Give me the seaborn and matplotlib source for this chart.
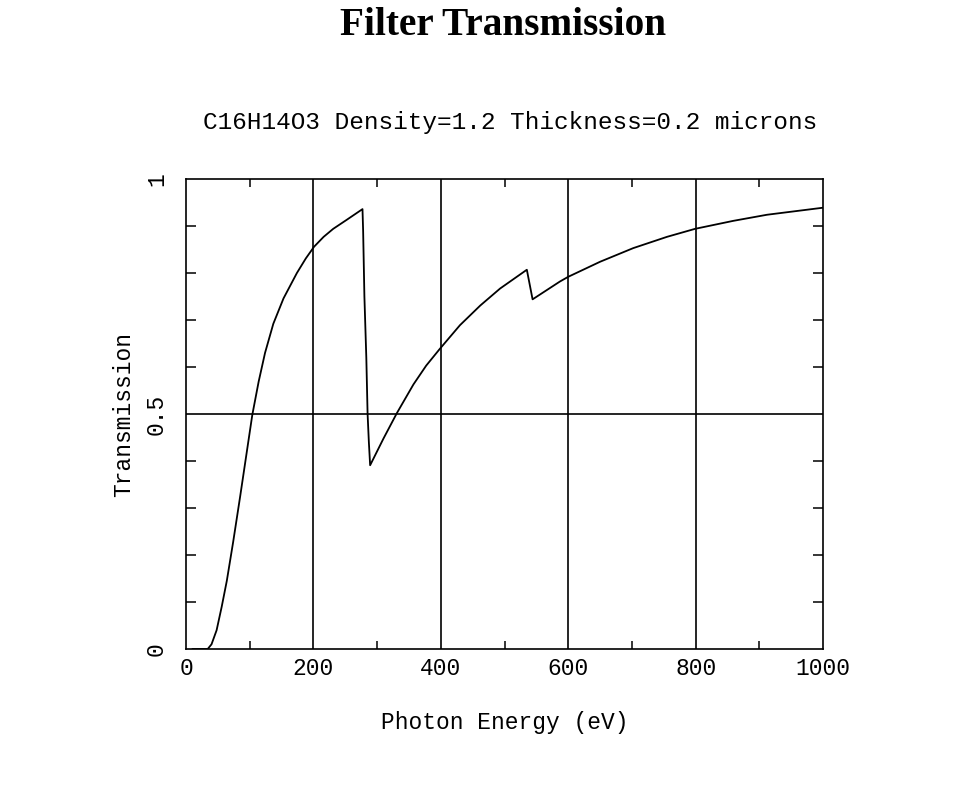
import pandas as pd
import matplotlib
matplotlib.use('Agg')
import matplotlib.pyplot as plt
import seaborn as sns
from matplotlib.ticker import MultipleLocator

# 透过率曲线数据
energy = [10, 34, 40, 48, 56, 64, 74, 85, 95, 104, 114, 124, 137, 153, 174, 188,
          201, 216, 231, 252, 277, 278, 280, 283, 285, 287, 289, 310, 331, 357,
          377, 398, 430, 462, 493, 535, 544, 587, 600, 650, 702, 755, 799, 859,
          912, 1000]
transmission = [0.0, 0.0, 0.01, 0.04, 0.09, 0.145, 0.228, 0.325, 0.416, 0.498,
                0.569, 0.630, 0.692, 0.746, 0.800, 0.831, 0.856, 0.877, 0.894,
                0.913, 0.936, 0.89, 0.75, 0.62, 0.50, 0.44, 0.391, 0.448, 0.502,
                0.563, 0.603, 0.638, 0.689, 0.731, 0.767, 0.807, 0.744, 0.782,
                0.792, 0.824, 0.853, 0.877, 0.894, 0.911, 0.924, 0.939]

x_ticks = [0, 200, 400, 600, 800, 1000]
y_ticks = [0, 0.5, 1]
y_tick_labels = ['0', '0.5', '1']

title = 'Filter Transmission'
subtitle = 'C16H14O3 Density=1.2 Thickness=0.2 microns'

sns.set_style('white')
plt.rcParams['font.family'] = ['Liberation Mono', 'DejaVu Sans Mono']
plt.rcParams['text.color'] = 'black'
plt.rcParams['axes.labelcolor'] = 'black'
plt.rcParams['xtick.color'] = 'black'
plt.rcParams['ytick.color'] = 'black'

df = pd.DataFrame({'energy': energy, 'transmission': transmission})

fig = plt.figure(figsize=(9.73, 7.88), dpi=100)
ax = fig.add_axes([0.1912, 0.1764, 0.6547, 0.5964])

sns.lineplot(data=df, x='energy', y='transmission', ax=ax, color='black',
             linewidth=1.3, sort=False, estimator=None)

ax.set_xlim(0, 1000)
ax.set_ylim(0, 1)

# 网格线
for gx in [200, 400, 600, 800]:
    ax.axvline(gx, color='black', linewidth=1.2, zorder=1)
ax.axhline(0.5, color='black', linewidth=1.2, zorder=1)

ax.set_xticks(x_ticks)
ax.set_yticks(y_ticks)
ax.set_yticklabels(y_tick_labels, rotation=90, va='center')
ax.xaxis.set_minor_locator(MultipleLocator(100))
ax.yaxis.set_minor_locator(MultipleLocator(0.1))
ax.tick_params(which='major', direction='in', length=0, labelsize=16.5)
ax.tick_params(axis='x', which='major', pad=6)
ax.tick_params(axis='y', which='major', pad=13)
ax.tick_params(which='minor', direction='in', length=6, width=1.1,
               top=True, right=True, bottom=True, left=True)
ax.tick_params(axis='y', which='minor', length=7)

for s in ax.spines.values():
    s.set_color('black')
    s.set_linewidth(1.2)
    s.set_visible(True)

ax.set_xlabel('Photon Energy (eV)', fontsize=16.5, labelpad=22)
ax.set_ylabel('Transmission', fontsize=16.5, labelpad=7)

fig.text(0.517, 0.968, title, ha='center', va='center', fontsize=28.3,
         fontweight='bold', family=['Liberation Serif', 'DejaVu Serif'])
fig.text(0.524, 0.844, subtitle, ha='center', va='center', fontsize=17.6)

fig.savefig('out.png', dpi=100)
